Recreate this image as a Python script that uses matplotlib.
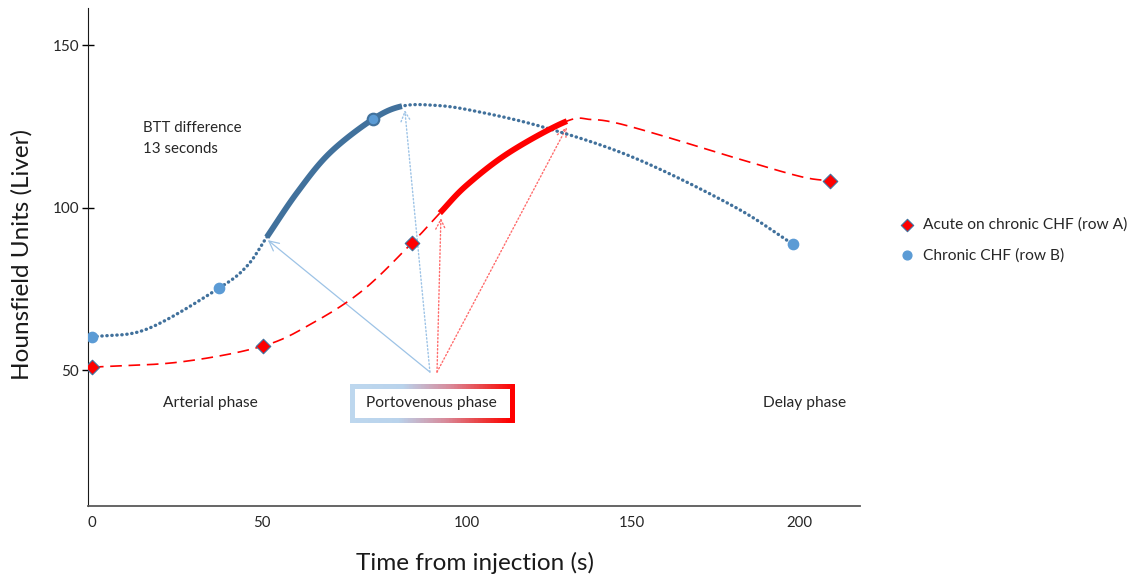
import numpy as np
import matplotlib
matplotlib.use("Agg")
import matplotlib.pyplot as plt
from matplotlib.collections import LineCollection
from matplotlib.colors import LinearSegmentedColormap

plt.rcParams['font.family'] = ['Lato', 'DejaVu Sans']

# ---- data ----
# measured points
red_t = [0, 48.3, 90.4, 208.5]
red_hu = [50.9, 57.4, 89.1, 108.2]
blue_t = [0, 35.9, 79.4, 198.0]
blue_hu = [60.2, 75.2, 127.2, 88.8]

# smoothed curve knots
blue_curve_t = [0, 15.5, 35.9, 43.8, 49.4, 57.9, 67.2, 79.4, 87.6, 96.3, 106.8, 127.4, 152.8, 181.1, 198.0]
blue_curve_hu = [60.2, 62.6, 75.2, 82.0, 90.9, 104.5, 116.8, 127.2, 131.2, 131.5, 130.0, 124.8, 115.5, 100.5, 88.8]
red_curve_t = [0, 24.9, 48.3, 62.4, 76.6, 90.4, 98.3, 105.9, 118.1, 134.2, 141.0, 148.3, 162.4, 181.1, 200.0, 208.5]
red_curve_hu = [50.9, 52.5, 57.4, 64.5, 74.6, 89.1, 98.3, 106.9, 117.1, 126.6, 127.1, 126.0, 121.7, 115.5, 109.6, 108.2]

# portovenous window (highlighted)
blue_pv = (49.4, 87.6)
red_pv = (98.3, 134.2)

x_tick_pos = [0, 48.0, 105.9, 152.5, 200]
x_tick_labels = ["0", "50", "100", "150", "200"]
y_ticks = [50, 100, 150]

series_names = ["Acute on chronic CHF (row A)", "Chronic CHF (row B)"]


def catmull_rom(xs, ys, n=30):
    P = np.column_stack([xs, ys]).astype(float)
    P = np.vstack([2 * P[0] - P[1], P, 2 * P[-1] - P[-2]])
    out = []
    for i in range(1, len(P) - 2):
        p0, p1, p2, p3 = P[i - 1], P[i], P[i + 1], P[i + 2]
        t = np.linspace(0, 1, n, endpoint=False)[:, None]
        seg = 0.5 * ((2 * p1) + (-p0 + p2) * t + (2 * p0 - 5 * p1 + 4 * p2 - p3) * t ** 2
                     + (-p0 + 3 * p1 - 3 * p2 + p3) * t ** 3)
        out.append(seg)
    out.append(P[-2][None, :])
    out = np.vstack(out)
    return out[:, 0], out[:, 1]


W, H = 1142, 581
fig = plt.figure(figsize=(W / 100, H / 100), dpi=100)
ax = fig.add_axes([88 / W, 1 - 506 / H, (860 - 88) / W, (506 - 8) / H])
ax.set_xlim(-1.1, 217)
ax.set_ylim(8.2, 161.4)

blue_dark = "#41719c"
blue_mark = "#5b9bd5"
red = "#ff0000"

bx, by = catmull_rom(blue_curve_t, blue_curve_hu)
rx, ry = catmull_rom(red_curve_t, red_curve_hu)

ax.plot(bx, by, color=blue_dark, lw=2.4, ls=(0, (0.1, 1.4)), dash_capstyle='round', zorder=3)
ax.plot(rx, ry, color=red, lw=1.2, ls=(0, (7, 4)), zorder=3)

m = (bx >= blue_pv[0]) & (bx <= blue_pv[1])
ax.plot(bx[m], by[m], color=blue_dark, lw=4.2, solid_capstyle='butt', zorder=4)
m = (rx >= red_pv[0]) & (rx <= red_pv[1])
ax.plot(rx[m], ry[m], color=red, lw=4.2, solid_capstyle='butt', zorder=4)

ax.scatter(blue_t, blue_hu, s=55, marker='o', color=blue_mark, edgecolor=blue_mark, zorder=5)
ax.scatter([blue_t[2]], [blue_hu[2]], s=70, marker='o', color=blue_mark, edgecolor=blue_dark, lw=1.5, zorder=6)
ax.scatter(red_t, red_hu, s=55, marker='D', color=red, edgecolor=blue_dark, lw=0.8, zorder=5)

# arrows
light_blue = "#9dc3e6"
light_red = "#ff6b6b"
ax.annotate("", xy=(49.7, 90.0), xytext=(95.5, 49.4),
            arrowprops=dict(arrowstyle='->,head_length=0.7,head_width=0.35', color=light_blue, lw=0.9, shrinkA=0, shrinkB=0), zorder=2)
ax.annotate("", xy=(88.4, 130.0), xytext=(95.5, 49.4),
            arrowprops=dict(arrowstyle='->,head_length=0.7,head_width=0.35', color=light_blue, lw=1.0, ls=':', shrinkA=0, shrinkB=0), zorder=2)
ax.annotate("", xy=(98.6, 96.8), xytext=(97.5, 49.4),
            arrowprops=dict(arrowstyle='->,head_length=0.7,head_width=0.35', color=light_red, lw=1.0, ls=':', shrinkA=0, shrinkB=0), zorder=2)
ax.annotate("", xy=(134.2, 124.8), xytext=(97.5, 49.4),
            arrowprops=dict(arrowstyle='->,head_length=0.7,head_width=0.35', color=light_red, lw=1.0, ls=':', shrinkA=0, shrinkB=0), zorder=2)

# gradient box
x0, x1, y0, y1 = 73.4, 118.6, 34.6, 45.1
cmap = LinearSegmentedColormap.from_list("pv", [(0, "#bdd7ee"), (0.3, "#b9d3ec"), (0.6, "#d98a9a"), (0.85, "#ee3434"), (1, "#ff0000")])
pts = []
n = 200
for xa, ya, xb, yb in [(x0, y0, x1, y0), (x1, y0, x1, y1), (x1, y1, x0, y1), (x0, y1, x0, y0)]:
    xs = np.linspace(xa, xb, n)
    ys = np.linspace(ya, yb, n)
    pts.append(np.column_stack([xs, ys]))
segs = []
cols = []
for p in pts:
    for i in range(len(p) - 1):
        segs.append([p[i], p[i + 1]])
        cols.append(((p[i][0] + p[i + 1][0]) / 2 - x0) / (x1 - x0))
lc = LineCollection(segs, cmap=cmap, linewidths=3.5, capstyle='projecting', zorder=3)
lc.set_array(np.array(cols))
lc.set_clim(0, 1)
ax.add_collection(lc)

txt_col = "#262626"
ax.text(96.0, 39.8, "Portovenous phase", ha='center', va='center', fontsize=11.2, color=txt_col)
ax.text(33.6, 39.8, "Arterial phase", ha='center', va='center', fontsize=11.2, color=txt_col)
ax.text(201.4, 39.8, "Delay phase", ha='center', va='center', fontsize=11.2, color=txt_col)
ax.text(14.4, 121.3, "BTT difference\n13 seconds", ha='left', va='center', fontsize=10.8,
        color=txt_col, linespacing=1.65)

# axes styling
for s in ['top', 'right']:
    ax.spines[s].set_visible(False)
ax.spines['left'].set_color("#1a1a1a")
ax.spines['bottom'].set_color("#595959")
ax.spines['bottom'].set_linewidth(1.3)
ax.set_yticks(y_ticks)
ax.set_yticklabels([str(v) for v in y_ticks], fontsize=11, color=txt_col)
ax.tick_params(axis='y', direction='inout', length=9, width=1, pad=2)
ax.set_xticks(x_tick_pos)
ax.set_xticklabels(x_tick_labels, fontsize=10.8, color=txt_col)
ax.tick_params(axis='x', length=0, pad=7)
fig.text(475 / W, 1 - 563 / H, "Time from injection (s)", fontsize=17.5, color="#1a1a1a",
         ha='center', va='center')
fig.text(22 / W, 1 - 255 / H, "Hounsfield Units (Liver)", fontsize=17.5, color="#1a1a1a",
         ha='center', va='center', rotation=90)

# legend
h1 = ax.scatter([], [], s=40, marker='D', color=red, edgecolor=blue_dark, lw=0.8)
h2 = ax.scatter([], [], s=40, marker='o', color=blue_mark)
fig.legend([h1, h2], series_names, loc='center left', bbox_to_anchor=(884 / W, 1 - 240 / H),
           frameon=False, fontsize=11.2, labelspacing=1.05, handletextpad=0.4, handlelength=1.2,
           labelcolor=txt_col)

fig.savefig("out.png", dpi=100)
